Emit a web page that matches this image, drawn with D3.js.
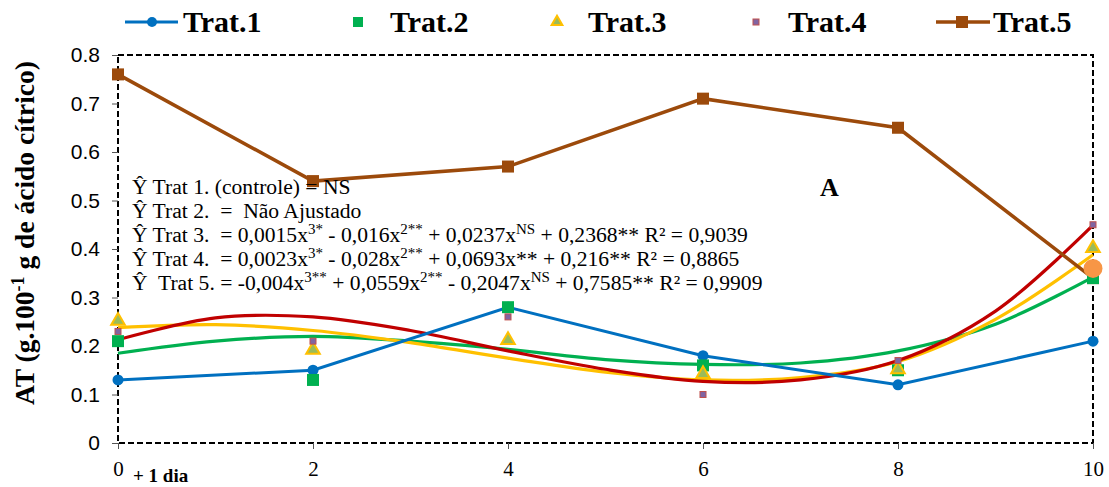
<!DOCTYPE html>
<html>
<head>
<meta charset="utf-8">
<script src="https://cdn.jsdelivr.net/npm/d3@7"></script>
<style>
  body { margin: 0; background: #fff; }
  svg { display: block; }
  text { white-space: pre; }
</style>
</head>
<body>
<div id="chart"></div>
<script>
// Days of storage
const DAYS   = [0, 2, 4, 6, 8, 10];
const TRAT1  = [0.13, 0.15, 0.28, 0.18, 0.12, 0.21];
const TRAT2  = [0.21, 0.13, 0.28, 0.16, 0.15, 0.34];
const TRAT3  = [0.25, 0.19, 0.21, 0.14, 0.15, 0.40];
const TRAT4  = [0.23, 0.21, 0.26, 0.10, 0.17, 0.45];
const TRAT5  = [0.76, 0.54, 0.57, 0.71, 0.65, 0.34];
const EXTRA  = [{ x: 10, y: 0.36 }];   // stray orange marker

// trend curves
const FIT_X  = [0, 1, 2, 3, 4, 5, 6, 7, 8, 9, 10];
const FIT2   = [0.185, 0.210, 0.220, 0.210, 0.193, 0.172, 0.162, 0.165, 0.190, 0.245, 0.342];
const FIT3   = [0.238, 0.244, 0.232, 0.207, 0.175, 0.146, 0.130, 0.135, 0.168, 0.255, 0.388];
const FIT4   = [0.213, 0.258, 0.260, 0.232, 0.190, 0.152, 0.127, 0.130, 0.170, 0.272, 0.449];

const Y_TICKS = [0, 0.1, 0.2, 0.3, 0.4, 0.5, 0.6, 0.7, 0.8];
const X_TICKS = [0, 2, 4, 6, 8, 10];
const LEG_NAMES = ["Trat.1", "Trat.2", "Trat.3", "Trat.4", "Trat.5"];

const C = {
  blue: "#0070C0", green: "#00B050", yellow: "#FFC000", red: "#C00000",
  brown: "#9C4A0B", purple: "#8064A2", olive: "#9BBB59", orange: "#F79646"
};

const W = 1109, H = 487;
const L = 118, R = 1093, T = 55, B = 443;
const SERIF = "'Liberation Serif', 'Times New Roman', serif";
const SANS  = "'Liberation Sans', Arial, sans-serif";

const svg = d3.select("#chart").append("svg").attr("width", W).attr("height", H);

const x = d3.scaleLinear().domain([0, 10]).range([L, R]);
const y = d3.scaleLinear().domain([0, 0.8]).range([B, T]);

// frame
svg.append("rect")
  .attr("x", L).attr("y", T).attr("width", R - L).attr("height", B - T)
  .attr("fill", "none").attr("stroke", "#000").attr("stroke-width", 2)
  .attr("stroke-dasharray", "6,3");

// y axis
const ya = svg.append("g").attr("transform", `translate(${L},0)`)
  .call(d3.axisLeft(y).tickValues(Y_TICKS).tickSize(6).tickPadding(12)
          .tickFormat(d => d === 0 ? "0" : d3.format(".1f")(d)));
ya.select(".domain").remove();
ya.selectAll("line").attr("stroke", "#555");
ya.selectAll("text").style("font-family", SANS)
  .attr("font-size", 21).attr("fill", "#000");

// x axis
const xa = svg.append("g").attr("transform", `translate(0,${B})`)
  .call(d3.axisBottom(x).tickValues(X_TICKS).tickSize(6).tickPadding(12));
xa.select(".domain").remove();
xa.selectAll("line").attr("stroke", "#555");
xa.selectAll("text").style("font-family", SERIF)
  .attr("font-size", 21).attr("fill", "#000");

svg.append("text").attr("x", 133).attr("y", 482)
  .style("font-family", SERIF).attr("font-weight", "bold")
  .attr("font-size", 19).text("+ 1 dia");

// y title
const yt = svg.append("text")
  .attr("transform", `translate(34,233) rotate(-90)`)
  .attr("text-anchor", "middle")
  .style("font-family", SERIF).attr("font-weight", "bold")
  .attr("font-size", 27.5);
yt.append("tspan").text("AT (g.100");
yt.append("tspan").attr("dy", -10).attr("font-size", 18).text("-1");
yt.append("tspan").attr("dy", 10).text(" g de ácido cítrico)");

// equations
const eqLines = [
  [["Ŷ Trat 1. (controle) = NS"]],
  [["Ŷ Trat 2.  =  Não Ajustado"]],
  [["Ŷ Trat 3.  = 0,0015x"], ["3*", 1], [" - 0,016x"], ["2**", 1], [" + 0,0237x"], ["NS", 1], [" + 0,2368** R² = 0,9039"]],
  [["Ŷ Trat 4.  = 0,0023x"], ["3*", 1], [" - 0,028x"], ["2**", 1], [" + 0,0693x** + 0,216** R² = 0,8865"]],
  [["Ŷ  Trat 5. = -0,004x"], ["3**", 1], [" + 0,0559x"], ["2**", 1], [" - 0,2047x"], ["NS", 1], [" + 0,7585** R² = 0,9909"]]
];

// trend curves
const curve = d3.line().x((d, i) => x(FIT_X[i])).y(d => y(d)).curve(d3.curveCatmullRom.alpha(0.5));
[[FIT2, C.green], [FIT3, C.yellow], [FIT4, C.red]].forEach(([vals, col]) => {
  svg.append("path").datum(vals).attr("d", curve)
    .attr("fill", "none").attr("stroke", col).attr("stroke-width", 3.2);
});

const line = d3.line().x((d, i) => x(DAYS[i])).y(d => y(d));

// Trat.5
svg.append("path").datum(TRAT5).attr("d", line)
  .attr("fill", "none").attr("stroke", C.brown).attr("stroke-width", 3.5);
svg.selectAll(".m5").data(TRAT5).join("rect")
  .attr("x", (d, i) => x(DAYS[i]) - 6).attr("y", d => y(d) - 6)
  .attr("width", 12).attr("height", 12).attr("fill", C.brown);

// Trat.1
svg.append("path").datum(TRAT1).attr("d", line)
  .attr("fill", "none").attr("stroke", C.blue).attr("stroke-width", 3);
svg.selectAll(".m1").data(TRAT1).join("circle")
  .attr("cx", (d, i) => x(DAYS[i])).attr("cy", d => y(d)).attr("r", 5.5).attr("fill", C.blue);

// Trat.2
svg.selectAll(".m2").data(TRAT2).join("rect")
  .attr("x", (d, i) => x(DAYS[i]) - 6).attr("y", d => y(d) - 6)
  .attr("width", 12).attr("height", 12).attr("fill", C.green);

// Trat.3
const tri = d3.symbol().type(d3.symbolTriangle).size(80);
svg.selectAll(".m3").data(TRAT3).join("path")
  .attr("transform", (d, i) => `translate(${x(DAYS[i])},${y(d) - 1})`)
  .attr("d", tri).attr("fill", C.olive).attr("stroke", C.yellow).attr("stroke-width", 2);

// Trat.4
svg.selectAll(".m4").data(TRAT4).join("rect")
  .attr("x", (d, i) => x(DAYS[i]) - 3).attr("y", d => y(d) - 3)
  .attr("width", 6).attr("height", 6).attr("fill", C.purple)
  .attr("stroke", "#C0504D").attr("stroke-width", 1);

// stray marker
svg.selectAll(".mx").data(EXTRA).join("circle")
  .attr("cx", d => x(d.x)).attr("cy", d => y(d.y)).attr("r", 9.5).attr("fill", C.orange);

// equations on top
eqLines.forEach((parts, li) => {
  const t = svg.append("text").attr("x", 132).attr("y", 194 + li * 24)
    .style("font-family", SERIF).attr("font-size", 21.6).attr("fill", "#000");
  let up = false;
  parts.forEach(([s, sup]) => {
    const sp = t.append("tspan").text(s);
    if (sup) { sp.attr("font-size", 15).attr("dy", -8); up = true; }
    else if (up) { sp.attr("dy", 8); up = false; }
  });
});

svg.append("text").attr("x", 820).attr("y", 196)
  .style("font-family", SERIF).attr("font-weight", "bold").attr("font-size", 26).text("A");

// legend
const LEG_Y = 22;
const leg = svg.append("g");
leg.append("line").attr("x1", 125).attr("x2", 178).attr("y1", LEG_Y).attr("y2", LEG_Y)
  .attr("stroke", C.blue).attr("stroke-width", 3);
leg.append("circle").attr("cx", 152).attr("cy", LEG_Y).attr("r", 5).attr("fill", C.blue);
leg.append("rect").attr("x", 353).attr("y", LEG_Y - 5).attr("width", 10).attr("height", 10).attr("fill", C.green);
leg.append("path").attr("transform", `translate(557,${LEG_Y})`).attr("d", d3.symbol().type(d3.symbolTriangle).size(50))
  .attr("fill", C.olive).attr("stroke", C.yellow).attr("stroke-width", 2);
leg.append("rect").attr("x", 753).attr("y", LEG_Y - 3).attr("width", 6).attr("height", 6)
  .attr("fill", C.purple).attr("stroke", "#C0504D");
leg.append("line").attr("x1", 936).attr("x2", 990).attr("y1", LEG_Y).attr("y2", LEG_Y)
  .attr("stroke", C.brown).attr("stroke-width", 3.5);
leg.append("rect").attr("x", 956).attr("y", LEG_Y - 6).attr("width", 12).attr("height", 12).attr("fill", C.brown);

const LEG_TX = [183, 390, 588, 788, 993];
LEG_NAMES.forEach((n, i) => {
  leg.append("text").attr("x", LEG_TX[i]).attr("y", LEG_Y + 10)
    .style("font-family", SERIF).attr("font-weight", "bold").attr("font-size", 30).text(n);
});
</script>
</body>
</html>
